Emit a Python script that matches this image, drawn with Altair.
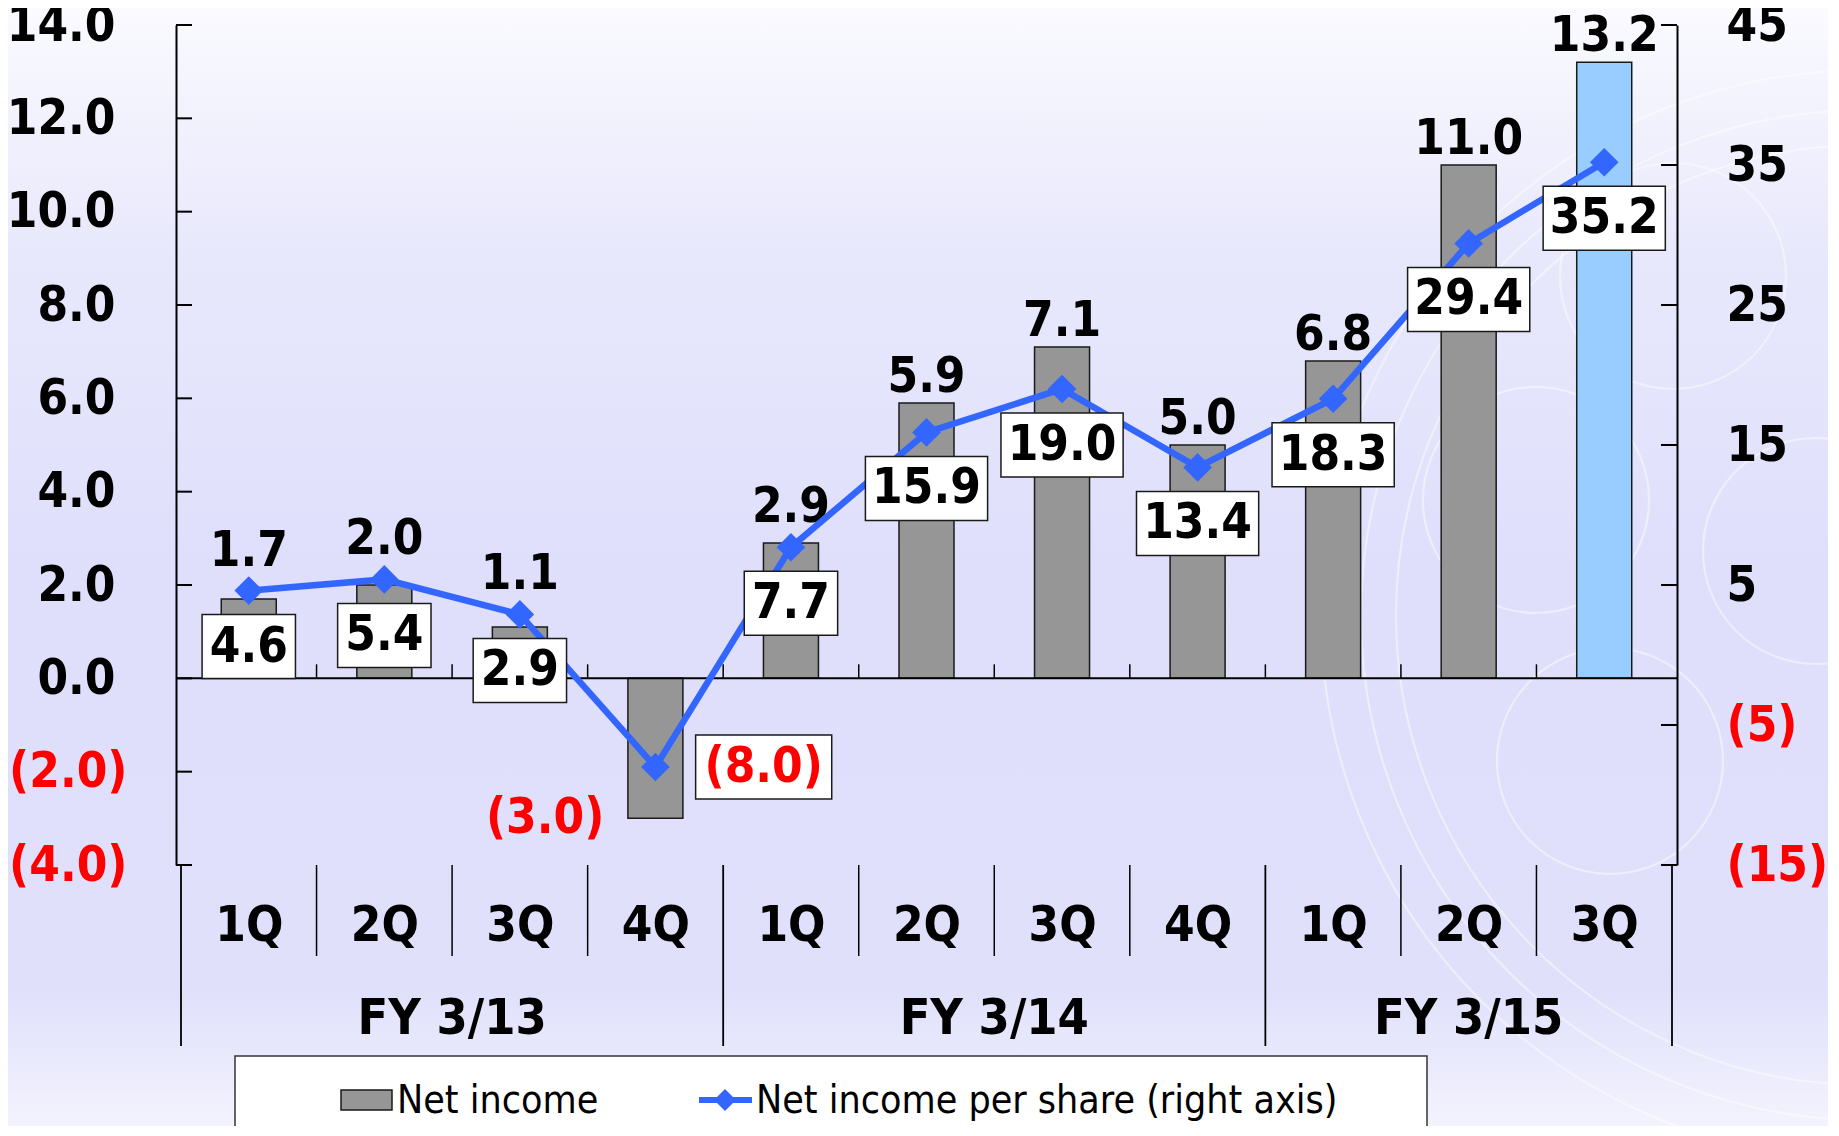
import json
import altair as alt
import pandas as pd

# ---------------- data ----------------
quarters = ["1Q", "2Q", "3Q", "4Q", "1Q", "2Q", "3Q", "4Q", "1Q", "2Q", "3Q"]
fiscal_years = ["FY 3/13"] * 4 + ["FY 3/14"] * 4 + ["FY 3/15"] * 3
net_income = [1.7, 2.0, 1.1, -3.0, 2.9, 5.9, 7.1, 5.0, 6.8, 11.0, 13.2]
net_income_per_share = [4.6, 5.4, 2.9, -8.0, 7.7, 15.9, 19.0, 13.4, 18.3, 29.4, 35.2]
is_latest = [False] * 10 + [True]
left_ticks = [-4, -2, 0, 2, 4, 6, 8, 10, 12, 14]
right_ticks = [-15, -5, 5, 15, 25, 35, 45]
legend_labels = ["Net income", "Net income per share (right axis)"]

# ---------------- layout / style ----------------
W, H = 1501, 840
PAD = {"left": 168, "top": 17, "right": 151, "bottom": 261}
n = len(quarters)
X_DOM = [-0.5, n - 0.5]
L_DOM = [-4, 14]
R_DOM = [-15, 45]
FONT = "DejaVu Sans Condensed, DejaVu Sans"
FS = 49
LEG_FS = 39
GRAY = "#969696"
BLUE_BAR = "#99CCFF"
LINE = "#3366FF"
RED = "#FF0000"
INK = "#1a1a1a"

px_x = W / (X_DOM[1] - X_DOM[0])
px_l = H / (L_DOM[1] - L_DOM[0])
px_r = H / (R_DOM[1] - R_DOM[0])


def r_to_l(v):
    return L_DOM[0] + (v - R_DOM[0]) * (L_DOM[1] - L_DOM[0]) / (R_DOM[1] - R_DOM[0])


def paren(v):
    return f"({abs(v):.1f})" if v < 0 else f"{v:.1f}"


df = pd.DataFrame({
    "idx": list(range(n)),
    "quarter": quarters,
    "fy": fiscal_years,
    "ni": net_income,
    "eps": net_income_per_share,
})
df["bar_fill"] = [BLUE_BAR if h else GRAY for h in is_latest]
df["ni_label"] = [paren(v) for v in df.ni]
df["eps_label"] = [paren(v) for v in df.eps]
# bar value label anchors (left scale units): above the bar or the EPS marker, whichever is higher
df["ni_lx"] = [i - 111 / px_x if v < 0 else i for i, v in zip(df.idx, df.ni)]
df["ni_ly"] = [
    v if v < 0 else max(v, r_to_l(e) + 14 / px_l) + 26 / px_l
    for v, e in zip(df.ni, df.eps)
]
# EPS label boxes (right scale units)
half_w = {3: 47.0, 4: 61.5, 5: 68.5}
df["eps_cx"] = [i + 109 / px_x if e < 0 else i for i, e in zip(df.idx, df.eps)]
df["eps_cy"] = [e if e < 0 else e - 56 / px_r for e in df.eps]
hw = [half_w[len(s)] / px_x for s in df.eps_label]
df["box_x"] = df.eps_cx - hw
df["box_x2"] = df.eps_cx + hw
df["box_y"] = df.eps_cy - 32 / px_r
df["box_y2"] = df.eps_cy + 32 / px_r

# boundaries between quarters / fiscal years
fy_bounds = [-0.5]
for i in range(1, n):
    if fiscal_years[i] != fiscal_years[i - 1]:
        fy_bounds.append(i - 0.5)
fy_bounds.append(n - 0.5)
q_bounds = [i + 0.5 for i in range(n - 1) if (i + 0.5) not in fy_bounds]
all_inner = [i + 0.5 for i in range(n - 1)]

fy_df = df.groupby("fy", sort=False)["idx"].mean().reset_index()

# ---------------- axes / encodings ----------------
x_axis = alt.Axis(
    orient="bottom", values=list(range(n)),
    labelExpr=f"{json.dumps(quarters)}[datum.value]",
    title=None, domain=False, ticks=False, grid=False, zindex=2,
    labelPadding=60, labelBaseline="middle", labelFont=FONT, labelFontSize=FS,
    labelFontWeight="bold", labelColor="black", labelFlush=False, labelOverlap=False,
)
x_scale = alt.Scale(domain=X_DOM, nice=False, zero=False)

l_axis = alt.Axis(
    orient="left", values=left_ticks,
    labelExpr="datum.value < 0 ? '(' + format(-datum.value, '.1f') + ')' : format(datum.value, '.1f')",
    labelColor={"condition": {"test": "datum.value < 0", "value": RED}, "value": "black"},
    labelPadding={"condition": {"test": "datum.value < 0", "value": 49}, "value": 61},
    title=None, ticks=False, grid=False, domain=True, domainColor="black", domainWidth=2, zindex=2,
    labelFont=FONT, labelFontSize=FS, labelFontWeight="bold",
    labelOverlap=False, labelFlush=False,
)
l_scale = alt.Scale(domain=L_DOM, nice=False, zero=False)

r_axis = alt.Axis(
    orient="right", values=right_ticks,
    labelExpr="datum.value < 0 ? '(' + format(-datum.value, 'd') + ')' : format(datum.value, 'd')",
    labelColor={"condition": {"test": "datum.value < 0", "value": RED}, "value": "black"},
    title=None, ticks=False, grid=False, domain=True, domainColor="black", domainWidth=2, zindex=2,
    labelPadding=49, labelAlign="left", labelFont=FONT, labelFontSize=FS, labelFontWeight="bold",
    labelOverlap=False, labelFlush=False,
)
r_scale = alt.Scale(domain=R_DOM, nice=False, zero=False)


def X(field):
    return alt.X(f"{field}:Q", scale=x_scale, axis=x_axis)


def YL(field):
    return alt.Y(f"{field}:Q", scale=l_scale, axis=l_axis)


def YR(field):
    return alt.Y(f"{field}:Q", scale=r_scale, axis=r_axis)


one = pd.DataFrame({"k": [0]})

# ---------------- background ----------------
bg = alt.Chart(one).mark_rect(
    fill=alt.Gradient(
        gradient="linear",
        stops=[
            alt.GradientStop(color="#FAFAFF", offset=0.0),
            alt.GradientStop(color="#E8E8FC", offset=0.22),
            alt.GradientStop(color="#DFDFFC", offset=0.5),
            alt.GradientStop(color="#E0E0FB", offset=0.88),
            alt.GradientStop(color="#F3F3FE", offset=1.0),
        ],
        x1=0, x2=0, y1=0, y2=1,
    )
).encode(
    x=alt.value(-PAD["left"]), x2=alt.value(W + PAD["right"]),
    y=alt.value(-PAD["top"]), y2=alt.value(H + PAD["bottom"]),
)

# faint decorative rings in the lower right of the slide background
rings = []
for cx, cy, r in [(1434, 736, 113), (1360, 475, 113), (1497, 251, 113), (1640, 526, 113),
                  (1690, 590, 470), (1690, 590, 505), (1690, 590, 545)]:
    rings.append(
        alt.Chart(one).mark_point(shape="circle", filled=False, color="white", strokeWidth=2.2,
                                  opacity=0.45, size=(2 * r) ** 2)
        .encode(x=alt.value(cx), y=alt.value(cy))
    )

# ---------------- left-scale group ----------------
bars = alt.Chart(df).mark_bar(size=55, stroke=INK, strokeWidth=1.5).encode(
    x=X("idx"), y=YL("ni"), fill=alt.Fill("bar_fill:N", scale=None),
)
zero_line = alt.Chart(pd.DataFrame({"z": [0]})).mark_rule(color="black", strokeWidth=2).encode(
    y=YL("z"),
)
zero_ticks = alt.Chart(pd.DataFrame({"b": all_inner, "z": 0.0, "z2": 14 / px_l})).mark_rule(
    color="black", strokeWidth=1.5
).encode(x=X("b"), y=YL("z"), y2="z2:Q")
left_tick_marks = alt.Chart(pd.DataFrame({"t": left_ticks})).mark_rule(color="black", strokeWidth=2).encode(
    y=YL("t"), x=alt.value(0), x2=alt.value(16),
)
ni_text = alt.Chart(df).mark_text(
    font=FONT, fontSize=FS, fontWeight="bold", baseline="middle", align="center"
).encode(
    x=X("ni_lx"), y=YL("ni_ly"), text="ni_label:N",
    color=alt.condition("datum.ni < 0", alt.value(RED), alt.value("black")),
)
left_group = alt.layer(bars, zero_line, zero_ticks, left_tick_marks, ni_text)

# ---------------- right-scale group ----------------
line = alt.Chart(df).mark_line(color=LINE, strokeWidth=6.5).encode(x=X("idx"), y=YR("eps"))
pts = alt.Chart(df).mark_point(shape="diamond", filled=True, size=820, color=LINE, opacity=1).encode(
    x=X("idx"), y=YR("eps")
)
boxes = alt.Chart(df).mark_rect(fill="white", stroke=INK, strokeWidth=1.5).encode(
    x=X("box_x"), x2="box_x2:Q", y=YR("box_y"), y2="box_y2:Q",
)
eps_text = alt.Chart(df).mark_text(
    font=FONT, fontSize=FS, fontWeight="bold", baseline="middle", align="center"
).encode(
    x=X("eps_cx"), y=YR("eps_cy"), text="eps_label:N",
    color=alt.condition("datum.eps < 0", alt.value(RED), alt.value("black")),
)
right_tick_marks = alt.Chart(pd.DataFrame({"t": right_ticks})).mark_rule(color="black", strokeWidth=2).encode(
    y=YR("t"), x=alt.value(W - 16), x2=alt.value(W),
)
right_group = alt.layer(line, pts, boxes, eps_text, right_tick_marks)

# ---------------- category separators and FY labels below the plot ----------------
q_sep = alt.Chart(pd.DataFrame({"b": q_bounds})).mark_rule(color="black", strokeWidth=1.5).encode(
    x=X("b"), y=alt.value(H), y2=alt.value(H + 91),
)
fy_sep = alt.Chart(pd.DataFrame({"b": fy_bounds})).mark_rule(color="black", strokeWidth=1.8).encode(
    x=X("b"), y=alt.value(H), y2=alt.value(H + 181),
)
fy_text = alt.Chart(fy_df).mark_text(
    font=FONT, fontSize=FS + 1, fontWeight="bold", baseline="middle", align="center", color="black"
).encode(x=X("idx"), y=alt.value(H + 154), text="fy:N")

# ---------------- legend (drawn) ----------------
leg_box = alt.Chart(one).mark_rect(fill="white", stroke="#333333", strokeWidth=1.5).encode(
    x=alt.value(59), x2=alt.value(1251), y=alt.value(1031), y2=alt.value(1160),
)
leg_swatch = alt.Chart(one).mark_rect(fill=GRAY, stroke=INK, strokeWidth=1.5).encode(
    x=alt.value(165), x2=alt.value(216), y=alt.value(1065), y2=alt.value(1085),
)
leg_text1 = alt.Chart(one).mark_text(
    font=FONT, fontSize=LEG_FS, align="left", baseline="middle", color="black", text=legend_labels[0]
).encode(x=alt.value(221), y=alt.value(1076))
leg_line = alt.Chart(one).mark_rule(color=LINE, strokeWidth=6).encode(
    x=alt.value(523), x2=alt.value(576), y=alt.value(1075),
)
leg_pt = alt.Chart(one).mark_point(shape="diamond", filled=True, size=480, color=LINE, opacity=1).encode(
    x=alt.value(549), y=alt.value(1075),
)
leg_text2 = alt.Chart(one).mark_text(
    font=FONT, fontSize=LEG_FS, align="left", baseline="middle", color="black", text=legend_labels[1]
).encode(x=alt.value(580), y=alt.value(1076))

chart = alt.layer(
    bg, *rings, left_group, right_group, q_sep, fy_sep, fy_text,
    leg_box, leg_swatch, leg_text1, leg_line, leg_pt, leg_text2,
).resolve_scale(y="independent").properties(
    width=W, height=H, padding=PAD, autosize=alt.AutoSizeParams(type="none"),
    background="#F3F3FE",
).configure_view(stroke=None)

chart.save("out.html", embed_options={"renderer": "svg", "actions": False})
